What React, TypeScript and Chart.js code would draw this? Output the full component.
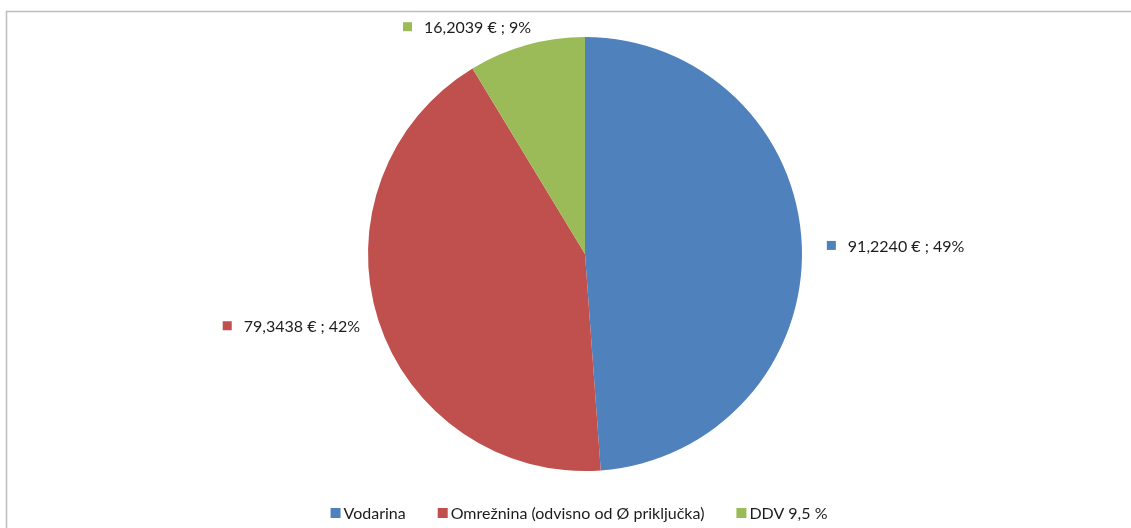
import React, { useEffect, useRef } from "react";
import { Chart, ArcElement, PieController } from "chart.js";

Chart.register(ArcElement, PieController);

const categories = ["Vodarina", "Omrežnina (odvisno od Ø priključka)", "DDV 9,5 %"];
const values = [91.224, 79.3438, 16.2039];
const colors = ["#4F81BD", "#C0504D", "#9BBB59"];

const FONT = "16px Lato, 'Noto Sans', sans-serif";
const TEXT_COLOR = "#1c1c1c";

function formatValue(v: number): string {
  return v.toFixed(4).replace(".", ",") + " €";
}

const overlayPlugin = {
  id: "overlay",
  afterDraw(chart: any) {
    const ctx: CanvasRenderingContext2D = chart.ctx;
    const total = values.reduce((a, b) => a + b, 0);
    ctx.save();
    // frame
    ctx.strokeStyle = "#BDBDBD";
    ctx.lineWidth = 1.5;
    ctx.strokeRect(6.5, 11.5, 3000, 3000);

    // data labels
    ctx.font = FONT;
    ctx.textBaseline = "middle";
    ctx.textAlign = "left";
    const meta = chart.getDatasetMeta(0);
    meta.data.forEach((arc: any, i: number) => {
      const p = arc.getProps(["x", "y", "startAngle", "endAngle", "outerRadius"], true);
      const mid = (p.startAngle + p.endAngle) / 2;
      const dx = Math.cos(mid);
      const dy = Math.sin(mid);
      const r = p.outerRadius + 19;
      const ax = p.x + dx * r;
      const ay = p.y + dy * r;
      const pct = Math.round((values[i] / total) * 100) + "%";
      const text = formatValue(values[i]) + " ; " + pct;
      const tw = ctx.measureText(text).width;
      const boxW = 21 + tw;
      // labels near the top are nudged toward the slice edge like Excel's best fit
      const shift = Math.abs(dy) > 0.8 ? -dx * 36 : 0;
      const left = (dx >= 0 ? ax + 6 : ax - boxW) + shift;
      ctx.fillStyle = colors[i];
      ctx.fillRect(left, ay - 4.5, 9, 9);
      ctx.fillStyle = TEXT_COLOR;
      ctx.fillText(text, left + 21, ay + 1);
    });

    // legend
    const widths = categories.map((c) => ctx.measureText(c).width);
    const itemGap = 32;
    const totalW = widths.reduce((a, w) => a + 13 + w, 0) + itemGap * (categories.length - 1);
    let x = 579 - totalW / 2;
    const ly = 513;
    categories.forEach((c, i) => {
      ctx.fillStyle = colors[i];
      ctx.fillRect(x, ly - 5, 10, 10);
      ctx.fillStyle = TEXT_COLOR;
      ctx.fillText(c, x + 13, ly + 1);
      x += 13 + widths[i] + itemGap;
    });
    ctx.restore();
  },
};

export default function App() {
  const ref = useRef<HTMLCanvasElement | null>(null);
  useEffect(() => {
    if (!ref.current) return;
    const chart = new Chart(ref.current, {
      type: "pie",
      data: {
        labels: categories,
        datasets: [
          {
            data: values,
            backgroundColor: colors,
            borderWidth: 0,
          },
        ],
      },
      options: {
        animation: false,
        responsive: false,
        devicePixelRatio: 1,
        layout: { padding: { top: 37, bottom: 57, left: 39, right: 0 } },
        plugins: {
          legend: { display: false },
          tooltip: { enabled: false },
        },
      },
      plugins: [overlayPlugin],
    });
    return () => chart.destroy();
  }, []);
  return (
    <div style={{ position: "absolute", left: 0, top: 0, width: 1131, height: 528, background: "#fff" }}>
      <canvas ref={ref} width={1131} height={528} style={{ display: "block" }} />
    </div>
  );
}
